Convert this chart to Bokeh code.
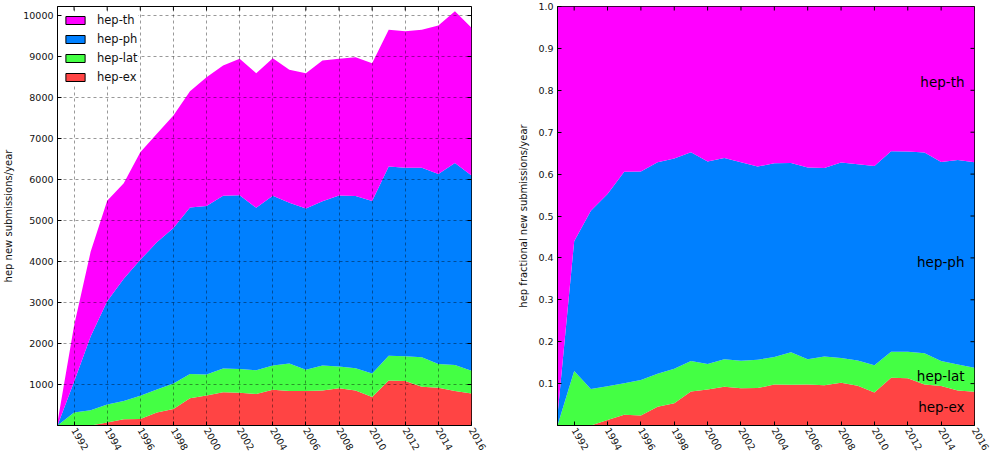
import math
import numpy as np
from bokeh.plotting import figure
from bokeh.models import ColumnDataSource, Range1d, FixedTicker, Legend, LegendItem, PrintfTickFormatter
from bokeh.layouts import row
from bokeh.core.properties import value
from bokeh.embed import file_html
from bokeh.resources import INLINE

# ---- data (new submissions per year) ----
years = list(range(1991, 2017))
hep_ex = [0, 0, 0, 72, 150, 160, 320, 402, 664, 730, 810, 797, 768, 874, 843, 840, 854, 911, 854, 698,
          1098, 1084, 944, 918, 843, 783]
hep_lat = [0, 316, 370, 441, 445, 565, 557, 620, 590, 516, 578, 583, 582, 592, 672, 518, 612, 529, 542, 572,
           602, 608, 720, 585, 630, 553]
hep_ph = [2, 753, 1800, 2515, 2985, 3315, 3593, 3797, 4066, 4109, 4218, 4237, 3960, 4139, 3920, 3935, 4003,
          4173, 4204, 4205, 4619, 4596, 4624, 4631, 4929, 4759]
hep_th = [80, 1361, 2065, 2452, 2331, 2627, 2644, 2742, 2834, 3141, 3174, 3326, 3283, 3354, 3240, 3300, 3433,
          3330, 3384, 3362, 3331, 3330, 3362, 3622, 3704, 3604]

names = ["hep-ex", "hep-lat", "hep-ph", "hep-th"]
colors = ["#FF4444", "#44FF44", "#0080FF", "#FF00FF"]

x_ticks = list(range(1992, 2017, 2))
y_ticks_left = list(range(1000, 10001, 1000))
y_ticks_right = [0.1, 0.2, 0.3, 0.4, 0.5, 0.6, 0.7, 0.8, 0.9, 1.0]
y_max_left = 10220
y_max_right = 1.0

# label placement for the fractional panel
label_x = 2015.4
label_y = [0.045, 0.117, 0.391, 0.819]

FONT = "DejaVu Sans"
H = 455

cols = [np.array(hep_ex, float), np.array(hep_lat, float), np.array(hep_ph, float), np.array(hep_th, float)]
total = sum(cols)
src_abs = ColumnDataSource(dict(year=years, **{n: c for n, c in zip(names, cols)}))
src_frac = ColumnDataSource(dict(year=years, **{n: c / total for n, c in zip(names, cols)}))


def style(p, yticks, ymax):
    p.outline_line_color = "black"
    p.outline_line_width = 1
    p.background_fill_color = "white"
    for ax in p.xaxis + p.yaxis:
        ax.major_tick_in = 4
        ax.major_tick_out = 0
        ax.minor_tick_line_color = None
        ax.axis_line_color = "black"
        ax.major_label_text_font = FONT
        ax.major_label_text_font_size = "9.5px"
        ax.major_label_text_color = "#111111"
        ax.axis_label_text_font = FONT
        ax.axis_label_text_font_size = "10px"
        ax.axis_label_text_font_style = "normal"
        ax.axis_label_text_color = "#111111"
    p.xaxis.ticker = FixedTicker(ticks=x_ticks)
    p.yaxis.ticker = FixedTicker(ticks=yticks)
    p.xaxis.major_label_orientation = -1.05
    p.xaxis.major_label_standoff = 3
    p.yaxis.major_label_standoff = 4
    p.yaxis.axis_label_standoff = 6
    # mirrored inward ticks on the top and right edges
    p.scatter(x=x_ticks, y=[ymax] * len(x_ticks), marker="dash", angle=math.pi / 2,
              size=8, line_color="black", line_width=1)
    p.scatter(x=[years[-1]] * len(yticks), y=yticks, marker="dash",
              size=8, line_color="black", line_width=1)


# ---- left: absolute ----
p1 = figure(width=500, height=H, output_backend="svg", toolbar_location=None,
            x_range=Range1d(years[0], years[-1]), y_range=Range1d(0, y_max_left),
            min_border_left=57, min_border_right=29, min_border_top=6, min_border_bottom=0)
p1.varea_stack(stackers=names, x="year", color=colors, source=src_abs)
p1.yaxis.axis_label = "hep new submissions/year"
style(p1, y_ticks_left, y_max_left)
p1.xgrid.ticker = FixedTicker(ticks=x_ticks)
p1.ygrid.ticker = FixedTicker(ticks=y_ticks_left)
for g in (p1.xgrid[0], p1.ygrid[0]):
    g.grid_line_color = "black"
    g.grid_line_alpha = 0.4
    g.grid_line_dash = "3 3"
    g.grid_line_width = 1
    g.level = "guide"

dummy = []
for n, c in zip(names, colors):
    r = p1.quad(left=[np.nan], right=[np.nan], top=[np.nan], bottom=[np.nan],
                fill_color=c, line_color="black", line_width=1)
    dummy.append(r)
items = [LegendItem(label=n, renderers=[r]) for n, r in zip(names[::-1], dummy[::-1])]
legend = Legend(items=items, location="top_left", border_line_color=None,
                background_fill_color="white", background_fill_alpha=1.0,
                glyph_width=24, glyph_height=10, label_text_font=FONT, label_text_font_size="11.5px",
                label_text_color="#111111",
                label_standoff=10, spacing=4, label_height=15, padding=5, margin=6)
p1.add_layout(legend)

# ---- right: fractional ----
p2 = figure(width=490, height=H, output_backend="svg", toolbar_location=None,
            x_range=Range1d(years[0], years[-1]), y_range=Range1d(0, y_max_right),
            min_border_left=57, min_border_right=16, min_border_top=6, min_border_bottom=0)
p2.varea_stack(stackers=names, x="year", color=colors, source=src_frac)
p2.yaxis.axis_label = "hep fractional new submissions/year"
style(p2, y_ticks_right, y_max_right)
p2.yaxis.formatter = PrintfTickFormatter(format="%.1f")
p2.xgrid.visible = False
p2.ygrid.visible = False
p2.text(x=[label_x] * 4, y=label_y, text=names, text_align="right", text_baseline="middle",
        text_font=value(FONT), text_font_size="13.5px", text_color="black")

layout = row(p1, p2)
open("out.html", "w").write(file_html(layout, INLINE))
